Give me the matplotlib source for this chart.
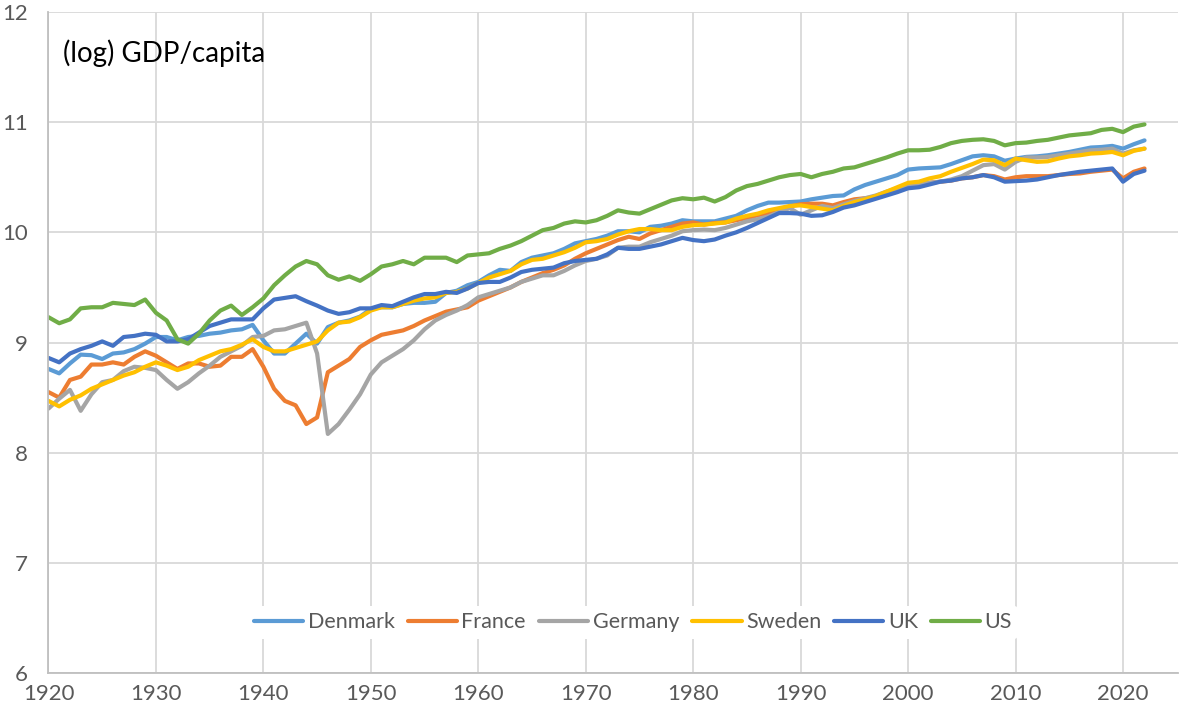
import matplotlib
matplotlib.use("Agg")
import matplotlib.pyplot as plt
import numpy as np

plt.rcParams['font.family'] = ['Lato', 'DejaVu Sans']

years = list(range(1920, 2023))

denmark = [8.76, 8.72, 8.81, 8.89, 8.885, 8.85, 8.90, 8.91, 8.94, 8.99,
           9.05, 9.05, 9.02, 9.05, 9.06, 9.08, 9.09, 9.11, 9.12, 9.16,
           9.02, 8.90, 8.90, 8.99, 9.08, 8.99, 9.14, 9.18, 9.20, 9.235,
           9.305, 9.32, 9.32, 9.35, 9.36, 9.36, 9.37, 9.45, 9.47, 9.52,
           9.55, 9.61, 9.66, 9.65, 9.73, 9.77, 9.79, 9.81, 9.85, 9.90,
           9.92, 9.94, 9.97, 10.01, 10.01, 10.00, 10.05, 10.06, 10.08, 10.11,
           10.10, 10.10, 10.10, 10.125, 10.15, 10.20, 10.24, 10.27, 10.27, 10.275,
           10.28, 10.30, 10.315, 10.33, 10.335, 10.39, 10.43, 10.46, 10.49, 10.52,
           10.57, 10.58, 10.585, 10.59, 10.62, 10.655, 10.69, 10.70, 10.69, 10.65,
           10.67, 10.685, 10.69, 10.70, 10.715, 10.73, 10.75, 10.77, 10.775, 10.785,
           10.76, 10.80, 10.835]

france = [8.55, 8.50, 8.66, 8.69, 8.80, 8.80, 8.82, 8.80, 8.87, 8.92,
          8.88, 8.82, 8.76, 8.81, 8.81, 8.78, 8.79, 8.87, 8.87, 8.94,
          8.78, 8.58, 8.47, 8.43, 8.26, 8.32, 8.73, 8.79, 8.85, 8.96,
          9.02, 9.07, 9.09, 9.11, 9.15, 9.20, 9.24, 9.28, 9.30, 9.32,
          9.38, 9.42, 9.46, 9.50, 9.55, 9.59, 9.63, 9.66, 9.70, 9.76,
          9.81, 9.85, 9.89, 9.93, 9.96, 9.94, 9.99, 10.02, 10.05, 10.08,
          10.09, 10.07, 10.085, 10.09, 10.11, 10.13, 10.155, 10.175, 10.205, 10.235,
          10.255, 10.26, 10.26, 10.245, 10.275, 10.30, 10.31, 10.32, 10.35, 10.38,
          10.42, 10.435, 10.45, 10.46, 10.47, 10.49, 10.50, 10.52, 10.51, 10.48,
          10.50, 10.51, 10.51, 10.51, 10.52, 10.53, 10.535, 10.55, 10.56, 10.57,
          10.49, 10.55, 10.58]

germany = [8.40, 8.49, 8.57, 8.38, 8.53, 8.64, 8.66, 8.74, 8.78, 8.77,
           8.75, 8.66, 8.58, 8.64, 8.72, 8.79, 8.87, 8.92, 8.97, 9.05,
           9.06, 9.11, 9.12, 9.15, 9.18, 8.90, 8.17, 8.26, 8.39, 8.53,
           8.71, 8.82, 8.88, 8.94, 9.02, 9.12, 9.20, 9.25, 9.29, 9.34,
           9.41, 9.44, 9.47, 9.50, 9.55, 9.58, 9.61, 9.61, 9.65, 9.70,
           9.74, 9.76, 9.79, 9.86, 9.87, 9.87, 9.91, 9.94, 9.97, 10.01,
           10.02, 10.025, 10.02, 10.04, 10.07, 10.10, 10.12, 10.145, 10.185, 10.22,
           10.16, 10.20, 10.24, 10.22, 10.255, 10.285, 10.31, 10.335, 10.37, 10.40,
           10.43, 10.44, 10.45, 10.46, 10.48, 10.51, 10.56, 10.61, 10.62, 10.57,
           10.64, 10.68, 10.68, 10.685, 10.70, 10.715, 10.73, 10.745, 10.75, 10.76,
           10.715, 10.745, 10.76]

sweden = [8.47, 8.42, 8.48, 8.52, 8.58, 8.62, 8.66, 8.70, 8.73, 8.78,
          8.82, 8.79, 8.75, 8.78, 8.84, 8.88, 8.92, 8.94, 8.98, 9.03,
          8.96, 8.92, 8.92, 8.95, 8.98, 9.01, 9.11, 9.18, 9.19, 9.23,
          9.29, 9.32, 9.32, 9.35, 9.38, 9.40, 9.41, 9.45, 9.46, 9.49,
          9.54, 9.59, 9.62, 9.65, 9.71, 9.75, 9.76, 9.79, 9.82, 9.86,
          9.91, 9.92, 9.94, 9.98, 10.01, 10.03, 10.03, 10.02, 10.02, 10.05,
          10.065, 10.07, 10.08, 10.09, 10.125, 10.15, 10.17, 10.20, 10.22, 10.24,
          10.245, 10.23, 10.215, 10.20, 10.24, 10.275, 10.30, 10.33, 10.37, 10.41,
          10.45, 10.46, 10.49, 10.51, 10.55, 10.585, 10.62, 10.66, 10.655, 10.61,
          10.67, 10.655, 10.64, 10.645, 10.67, 10.69, 10.70, 10.715, 10.72, 10.73,
          10.70, 10.74, 10.76]

uk = [8.86, 8.82, 8.90, 8.94, 8.97, 9.01, 8.97, 9.05, 9.06, 9.08,
      9.07, 9.01, 9.01, 9.03, 9.09, 9.15, 9.18, 9.21, 9.21, 9.21,
      9.31, 9.39, 9.405, 9.42, 9.375, 9.335, 9.29, 9.26, 9.275, 9.31,
      9.31, 9.34, 9.33, 9.37, 9.41, 9.44, 9.44, 9.46, 9.45, 9.49,
      9.54, 9.55, 9.55, 9.59, 9.64, 9.66, 9.67, 9.68, 9.72, 9.74,
      9.75, 9.76, 9.80, 9.86, 9.85, 9.85, 9.87, 9.89, 9.92, 9.95,
      9.93, 9.92, 9.935, 9.97, 10.00, 10.04, 10.085, 10.13, 10.175, 10.175,
      10.17, 10.15, 10.155, 10.185, 10.225, 10.245, 10.275, 10.305, 10.335, 10.365,
      10.40, 10.41, 10.435, 10.46, 10.47, 10.49, 10.50, 10.52, 10.50, 10.46,
      10.465, 10.47, 10.48, 10.50, 10.52, 10.535, 10.55, 10.56, 10.57, 10.58,
      10.46, 10.53, 10.56]

us = [9.23, 9.175, 9.21, 9.31, 9.32, 9.32, 9.36, 9.35, 9.34, 9.39,
      9.27, 9.20, 9.03, 8.99, 9.08, 9.20, 9.29, 9.335, 9.25, 9.32,
      9.40, 9.52, 9.61, 9.69, 9.74, 9.71, 9.61, 9.57, 9.60, 9.56,
      9.62, 9.69, 9.71, 9.74, 9.71, 9.77, 9.77, 9.77, 9.73, 9.79,
      9.80, 9.81, 9.85, 9.88, 9.92, 9.97, 10.02, 10.04, 10.08, 10.10,
      10.09, 10.11, 10.15, 10.20, 10.18, 10.17, 10.21, 10.25, 10.29, 10.31,
      10.30, 10.315, 10.28, 10.32, 10.38, 10.42, 10.44, 10.47, 10.50, 10.52,
      10.53, 10.50, 10.53, 10.55, 10.58, 10.59, 10.62, 10.65, 10.68, 10.715,
      10.745, 10.745, 10.75, 10.775, 10.81, 10.83, 10.84, 10.845, 10.83, 10.79,
      10.81, 10.815, 10.83, 10.84, 10.86, 10.88, 10.89, 10.90, 10.93, 10.94,
      10.91, 10.96, 10.98]

series_names = ["Denmark", "France", "Germany", "Sweden", "UK", "US"]
series_values = [denmark, france, germany, sweden, uk, us]
colors = ["#5B9BD5", "#ED7D31", "#A5A5A5", "#FFC000", "#4472C4", "#70AD47"]

x_ticks = list(range(1920, 2021, 10))
y_ticks = [6, 7, 8, 9, 10, 11, 12]

fig = plt.figure(figsize=(11.79, 7.17), dpi=100)
ax = fig.add_axes([0.0411, 0.0614, 0.9579, 0.9218])

for name, vals, c in zip(series_names, series_values, colors):
    ax.plot(years, vals, color=c, lw=3.0, label=name, solid_capstyle='round',
            solid_joinstyle='round')

ax.set_xlim(1920, 2025.1)
ax.set_ylim(6, 12)
ax.set_xticks(x_ticks)
ax.set_yticks(y_ticks)
ax.grid(True, color="#D9D9D9", lw=1.3)
ax.set_axisbelow(True)
for s in ["top", "right"]:
    ax.spines[s].set_visible(False)
for s in ["left", "bottom"]:
    ax.spines[s].set_color("#BFBFBF")
    ax.spines[s].set_linewidth(1.3)
ax.tick_params(length=0, labelsize=16, labelcolor="#595959")
ax.tick_params(axis='y', pad=15)
ax.tick_params(axis='x', pad=8)

ax.text(0.013, 0.958, "(log) GDP/capita", transform=ax.transAxes,
        fontsize=20, color="black", va="top", ha="left")

leg = ax.legend(loc="center", bbox_to_anchor=(0.5175, 0.077), ncol=6,
                frameon=True, framealpha=1, edgecolor="none", facecolor="white",
                fontsize=15.5, handlelength=2.3, handletextpad=0.2,
                columnspacing=0.6, borderpad=0.3)
for t in leg.get_texts():
    t.set_color("#595959")

fig.savefig("out.png", dpi=100, facecolor="white")
